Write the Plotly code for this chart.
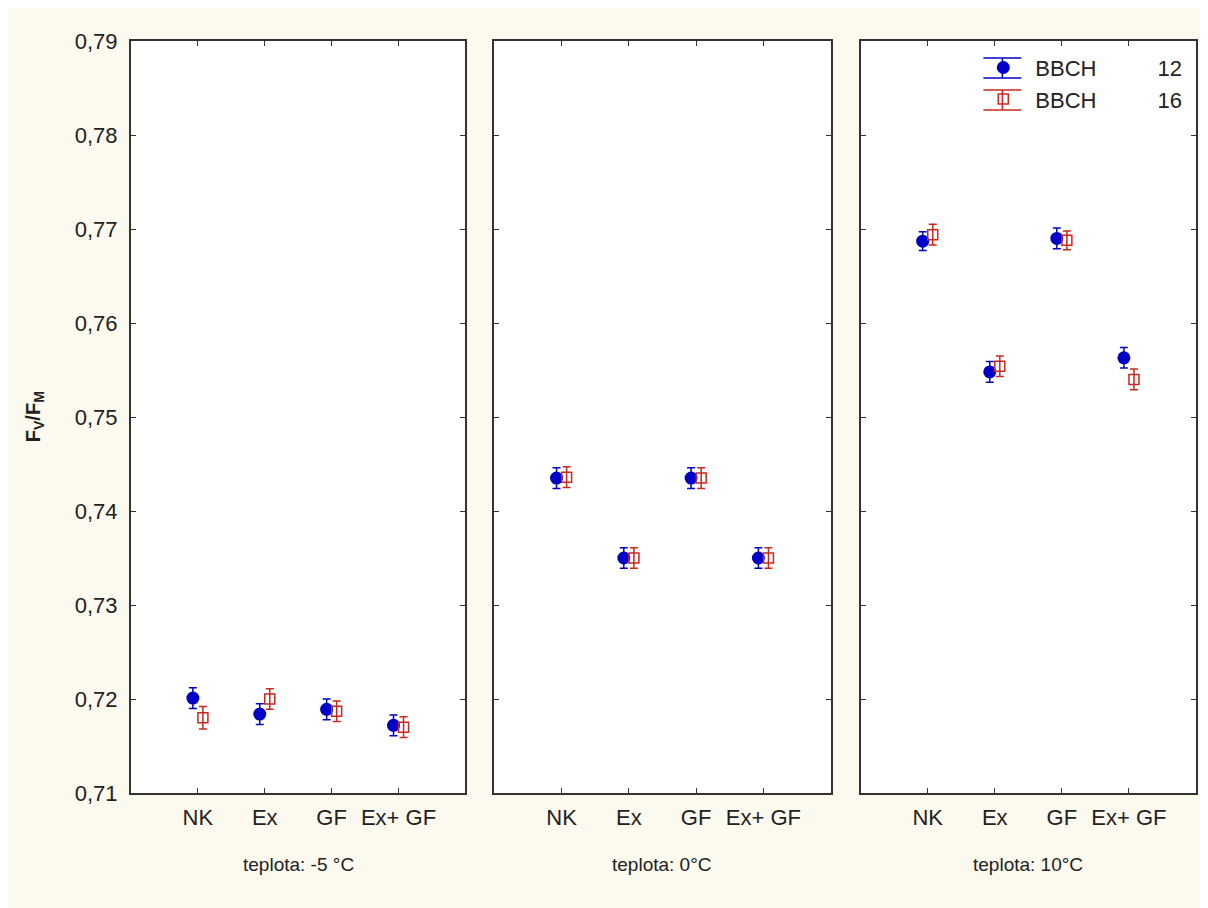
import plotly.graph_objects as go

categories = ["NK", "Ex", "GF", "Ex+ GF"]
panels = ["teplota: -5 °C", "teplota: 0°C", "teplota: 10°C"]

# BBCH 12 means per panel
bbch12 = [
    [0.7201, 0.7184, 0.7189, 0.7172],
    [0.7435, 0.7350, 0.7435, 0.7350],
    [0.7687, 0.7548, 0.7690, 0.7563],
]
bbch12_err = [
    [0.0011, 0.0011, 0.0011, 0.0011],
    [0.0011, 0.0011, 0.0011, 0.0011],
    [0.0010, 0.0011, 0.0011, 0.0011],
]
# BBCH 16 means per panel
bbch16 = [
    [0.7180, 0.7200, 0.7187, 0.7170],
    [0.7436, 0.7350, 0.7435, 0.7350],
    [0.7694, 0.7554, 0.7688, 0.7540],
]
bbch16_err = [
    [0.0012, 0.0011, 0.0011, 0.0011],
    [0.0011, 0.0011, 0.0011, 0.0011],
    [0.0011, 0.0011, 0.0010, 0.0011],
]
y_ticks = [0.71, 0.72, 0.73, 0.74, 0.75, 0.76, 0.77, 0.78, 0.79]

BLUE = "#0000C8"
RED = "#C8281E"
BG = "#FCF9EF"
TXT = "#222222"
FONT = "Liberation Sans, Arial, sans-serif"

domains = [[0.0, 0.314], [0.3411, 0.657], [0.6851, 1.0]]
offset = 0.075
SP = "\u00a0" * 10

fig = go.Figure()
for i in range(3):
    xa = "x" if i == 0 else f"x{i+1}"
    ya = "y" if i == 0 else f"y{i+1}"
    pos = list(range(1, len(categories) + 1))
    fig.add_trace(go.Scatter(
        x=[p - offset for p in pos], y=bbch12[i], xaxis=xa, yaxis=ya,
        mode="markers", name="BBCH" + SP + "12", legendgroup="12", showlegend=(i == 0),
        marker=dict(symbol="circle", size=13, color=BLUE),
        error_y=dict(type="data", array=bbch12_err[i], color=BLUE, thickness=1.5, width=4),
    ))
    fig.add_trace(go.Scatter(
        x=[p + offset for p in pos], y=bbch16[i], xaxis=xa, yaxis=ya,
        mode="markers", name="BBCH" + SP + "16", legendgroup="16", showlegend=(i == 0),
        marker=dict(symbol="square-open", size=10, color=RED, line=dict(width=1.5, color=RED)),
        error_y=dict(type="data", array=bbch16_err[i], color=RED, thickness=1.5, width=4),
    ))

layout = dict(
    width=1200, height=900,
    paper_bgcolor=BG, plot_bgcolor="white",
    margin=dict(l=123, r=10, t=33, b=115),
    separators=", ",
    font=dict(family=FONT, size=22, color=TXT),
    showlegend=True,
    legend=dict(x=0.789, y=0.9924, xanchor="left", yanchor="top",
                bgcolor="rgba(0,0,0,0)", font=dict(size=22, color=TXT),
                itemwidth=54, tracegroupgap=0),
)
for i in range(3):
    xk = "xaxis" if i == 0 else f"xaxis{i+1}"
    yk = "yaxis" if i == 0 else f"yaxis{i+1}"
    layout[xk] = dict(
        domain=domains[i], range=[0, 5], tickmode="array",
        tickvals=list(range(1, 5)), ticktext=categories,
        ticks="inside", ticklen=5, tickcolor="#333333", mirror="ticks",
        showline=True, linecolor="#333333", linewidth=2, showgrid=False, zeroline=False,
        anchor="y" if i == 0 else f"y{i+1}",
        tickfont=dict(size=22, color=TXT), ticklabelstandoff=4,
    )
    layout[yk] = dict(
        range=[0.71, 0.79], tickmode="array", tickvals=y_ticks,
        tickformat=".2f", ticks="inside", ticklen=5, tickcolor="#333333", mirror="ticks",
        showline=True, linecolor="#333333", linewidth=2, showgrid=False, zeroline=False,
        showticklabels=(i == 0),
        anchor="x" if i == 0 else f"x{i+1}",
        tickfont=dict(size=22, color=TXT), ticklabelstandoff=7,
    )
    if i > 0:
        layout[yk]["matches"] = "y"

annotations = []
for i in range(3):
    annotations.append(dict(
        text=panels[i], xref="paper", yref="paper",
        x=(domains[i][0] + domains[i][1]) / 2, y=-0.0957,
        xanchor="center", yanchor="middle", showarrow=False,
        font=dict(size=19, color=TXT),
    ))
annotations.append(dict(
    text="<b>F<sub>V</sub>/F<sub>M</sub></b>", xref="paper", yref="paper",
    x=-0.0909, y=0.5, xanchor="center", yanchor="middle", textangle=-90,
    showarrow=False, font=dict(size=20, color=TXT),
))
layout["annotations"] = annotations

# legend icon decoration (error-bar style caps around legend symbols)
def px_x(px):
    return (px - 131) / 1067
def px_y(py):
    return 1 - (py - 41) / 752

shapes = []
for (top, bot, col) in [(58, 78, BLUE), (90, 110, RED)]:
    for yy in (top, bot):
        shapes.append(dict(type="line", xref="paper", yref="paper",
                           x0=px_x(985), x1=px_x(1023), y0=px_y(yy), y1=px_y(yy),
                           line=dict(color=col, width=1.5)))
    shapes.append(dict(type="line", xref="paper", yref="paper",
                       x0=px_x(1004), x1=px_x(1004), y0=px_y(top), y1=px_y(bot),
                       line=dict(color=col, width=1.5)))
layout["shapes"] = shapes
fig.update_layout(**layout)
fig.write_html("out.html")
